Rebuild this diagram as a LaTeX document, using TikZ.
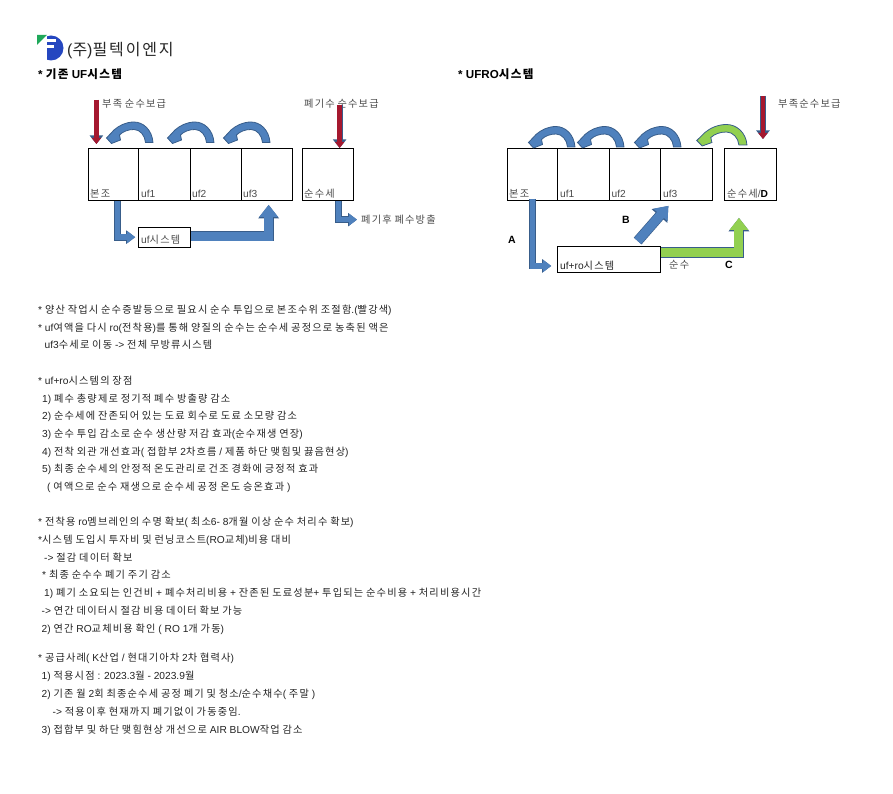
\documentclass[tikz,border=0pt]{standalone}
\usepackage{fontspec}
\usetikzlibrary{arrows.meta}
\setmainfont{Liberation Sans}
\newfontfamily\krfont[LetterSpace=11.7]{Noto Sans CJK KR}
% hangul goes to the korean font, the rest stays in Liberation Sans
\XeTeXinterchartokenstate=1
\newXeTeXintercharclass\krclass
\count255="AC00
\loop\XeTeXcharclass\count255=\krclass\ifnum\count255<"D7A3 \advance\count255 by 1 \repeat
\XeTeXinterchartoks 0 \krclass={\krfont}
\XeTeXinterchartoks 4095 \krclass={\krfont}
\XeTeXinterchartoks \krclass 0={\rmfamily}
\XeTeXinterchartoks \krclass 4095={\rmfamily}
\definecolor{flowblue}{HTML}{4F81BD}
\definecolor{flowedge}{HTML}{385D8A}
\definecolor{flowgreen}{HTML}{92D050}
\definecolor{flowred}{HTML}{A5182F}
\definecolor{logoblue}{HTML}{2547C0}
\definecolor{logogreen}{HTML}{1FA85A}
\definecolor{inktext}{HTML}{222222}
\definecolor{graytext}{HTML}{4A4A4A}
\tikzset{
  tank/.style={draw=black, line width=0.9pt, rectangle, inner sep=0pt, anchor=north west},
  tag/.style={anchor=base west, inner sep=0pt, font=\fontsize{10.2}{11}\selectfont, text=graytext},
  note/.style={anchor=base west, inner sep=0pt, font=\fontsize{10.2}{11}\selectfont, text=inktext},
  heading/.style={anchor=base west, inner sep=0pt, font=\fontsize{11.6}{13}\selectfont\bfseries, text=black},
  letter/.style={anchor=center, inner sep=0pt, font=\fontsize{10.5}{11}\selectfont\bfseries, text=black},
  thinflow/.style={draw=flowblue, line width=5.5pt, -{Triangle[length=8pt,width=11.5pt]},
    preaction={draw=flowedge, line width=6.8pt, -{Triangle[length=9pt,width=13pt]}}},
  wideflow/.style={draw=#1, line width=9pt, -{Triangle[length=12pt,width=18pt]},
    preaction={draw=flowedge, line width=10.3pt, -{Triangle[length=13.5pt,width=20pt]}}},
  wideflow/.default=flowblue,
  redflow/.style={draw=flowred, line width=4.5pt, -{Triangle[length=6pt,width=9pt]},
    preaction={draw=flowedge, line width=5.8pt, -{Triangle[length=8.5pt,width=13pt]}}},
  backflow/.pic={
    \filldraw[pic actions, line width=0.8pt] (0,0) .. controls (-1,-13) and (-10,-20.5) .. (-19,-20.5)
      .. controls (-27,-20.5) and (-34,-17) .. (-39,-12.5) -- (-46.5,-4.5) -- (-41.5,1) -- (-32.5,-2.5) -- (-33.5,-7.5)
      .. controls (-30,-11) and (-25,-13) .. (-19,-13)
      .. controls (-13,-13) and (-8,-7) .. (-7.5,0) -- cycle;
  }
}
\begin{document}
\begin{tikzpicture}[x=1pt, y=-1pt]
\useasboundingbox (0,0) rectangle (893,794);
% logo
\fill[logoblue] (51,48) circle (12.5);
\fill[white] (37,35) rectangle (47,60);
\fill[white] (47,39) rectangle (56,42);
\fill[white] (47,45.5) rectangle (54,48.5);
\fill[logogreen] (37,35) -- (47,35) -- (37,45) -- cycle;
\node[anchor=base west, inner sep=0pt, font=\fontsize{16}{20}\selectfont, text=black!85] (company) at (67,56) {(주)필텍이엔지};
\node[heading] (headleft) at (38,79) {* 기존 UF시스템};
\node[heading] (headright) at (458,79) {* UFRO시스템};
% left system
\node[tank, minimum width=50.5pt, minimum height=52pt] (lmain) at (87.7,148) {};
\node[tank, minimum width=52pt, minimum height=52pt] (luf1) at (138.2,148) {};
\node[tank, minimum width=51pt, minimum height=52pt] (luf2) at (190.2,148) {};
\node[tank, minimum width=51pt, minimum height=52pt] (luf3) at (241.2,148) {};
\node[tank, minimum width=51pt, minimum height=52pt] (lrinse) at (301.7,148) {};
\node[tank, minimum width=52pt, minimum height=20pt] (lsys) at (138.2,226.7) {};
\node[tag] at (90,197.5) {본조};
\node[tag] at (141,197.5) {uf1};
\node[tag] at (192,197.5) {uf2};
\node[tag] at (243,197.5) {uf3};
\node[tag] at (304,197.5) {순수세};
\node[tag] at (141,243.5) {uf시스템};
\node[tag] (lfeedtag) at (102,108) {부족 순수보급};
\node[tag] (lwastetag) at (304,108) {폐기수 순수보급};
\node[tag] (ldrain) at (361,223.5) {폐기후 폐수방출};
\coordinate (lfeed) at ([xshift=-17pt,yshift=48pt]lmain.north);
\coordinate (lwaste) at ([xshift=12pt,yshift=43pt]lrinse.north);
\draw[redflow, shorten >=4pt] (lfeed) -- ([xshift=-17pt]lmain.north);
\draw[redflow] (lwaste) -- ([xshift=12pt]lrinse.north);
\pic[fill=flowblue, draw=flowedge] at (153,142.5) {backflow};
\pic[fill=flowblue, draw=flowedge] at (214,142.5) {backflow};
\pic[fill=flowblue, draw=flowedge] at (270,142.5) {backflow};
\draw[thinflow, shorten >=3pt] ([xshift=4pt]lmain.south) |- (lsys.west);
\draw[wideflow, shorten >=4pt] ([yshift=1pt]lsys.east) -| ([xshift=1.5pt]luf3.south);
\draw[thinflow, shorten >=4pt] ([xshift=11pt]lrinse.south) |- (ldrain.west);
% right system
\node[tank, minimum width=50.5pt, minimum height=52pt] (rmain) at (506.7,148) {};
\node[tank, minimum width=52pt, minimum height=52pt] (ruf1) at (557.2,148) {};
\node[tank, minimum width=51pt, minimum height=52pt] (ruf2) at (609.2,148) {};
\node[tank, minimum width=51.5pt, minimum height=52pt] (ruf3) at (660.2,148) {};
\node[tank, minimum width=52pt, minimum height=52pt] (rrinse) at (723.5,148) {};
\node[tank, minimum width=103pt, minimum height=26pt] (rsys) at (557.2,246) {};
\node[tag] at (509,197.5) {본조};
\node[tag] at (560,197.5) {uf1};
\node[tag] at (611.5,197.5) {uf2};
\node[tag] at (663,197.5) {uf3};
\node[tag] at (727,197.5) {순수세/\textbf{\textcolor{black}{D}}};
\node[tag, text=inktext] at (560,269.5) {uf+ro시스템};
\node[tag] (rpure) at (669,268.5) {순수};
\node[tag] (rfeedtag) at (778,108) {부족순수보급};
\node[letter] (flowa) at (512,240) {A};
\node[letter] (flowb) at (626,220) {B};
\node[letter] (flowc) at (729,265) {C};
\coordinate (rfeed) at ([xshift=13pt,yshift=52pt]rrinse.north);
\draw[redflow, shorten >=9pt] (rfeed) -- ([xshift=13pt]rrinse.north);
\pic[fill=flowblue, draw=flowedge] at (575,147) {backflow};
\pic[fill=flowblue, draw=flowedge] at (624,147) {backflow};
\pic[fill=flowblue, draw=flowedge] at (681,147) {backflow};
\pic[fill=flowgreen, draw=flowedge, xscale=1.08] at (747,145) {backflow};
\draw[thinflow, shorten >=6pt] ([yshift=2pt]rmain.south) |- ([yshift=-6.5pt]rsys.west);
\draw[wideflow] ([xshift=28.5pt,yshift=5pt]rsys.north) -- ([xshift=-18pt,yshift=-5pt]ruf3.south);
\draw[wideflow=flowgreen, shorten >=17pt] ([yshift=7pt]rsys.east) -| ([xshift=-11pt]rrinse.south);
% notes
\node[note] (note1) at (38,313) {* 양산 작업시 순수증발등으로 필요시 순수 투입으로 본조수위 조절함.(빨강색)};
\node[note] (note2) at (38,331) {* uf여액을 다시 ro(전착용)를 통해 양질의 순수는 순수세 공정으로 농축된 액은};
\node[note] (note3) at (44.5,348) {uf3수세로 이동 -> 전체 무방류시스템};
\node[note] (note4) at (38,384) {* uf+ro시스템의 장점};
\node[note] (note5) at (42,402) {1) 폐수 총량제로 정기적 폐수 방출량 감소};
\node[note] (note6) at (42,419) {2) 순수세에 잔존되어 있는 도료 회수로 도료 소모량 감소};
\node[note] (note7) at (42,437) {3) 순수 투입 감소로 순수 생산량 저감 효과(순수재생 연장)};
\node[note] (note8) at (42,455) {4) 전착 외관 개선효과( 접합부 2차흐름 / 제품 하단 맺힘및 끓음현상)};
\node[note] (note9) at (42,472) {5) 최종 순수세의 안정적 온도관리로 건조 경화에 긍정적 효과};
\node[note] (note10) at (47,490) {( 여액으로 순수 재생으로 순수세 공정 온도 승온효과 )};
\node[note] (note11) at (38,525) {* 전착용 ro멤브레인의 수명 확보( 최소6- 8개월 이상 순수 처리수 확보)};
\node[note] (note12) at (38,543) {*시스템 도입시 투자비 및 런닝코스트(RO교체)비용 대비};
\node[note] (note13) at (44,561) {-> 절감 데이터 확보};
\node[note] (note14) at (42,578) {* 최종 순수수 폐기 주기 감소};
\node[note] (note15) at (44,596) {1) 폐기 소요되는 인건비 + 폐수처리비용 + 잔존된 도료성분+ 투입되는 순수비용 + 처리비용시간};
\node[note] (note16) at (41.5,614) {-> 연간 데이터시 절감 비용 데이터 확보 가능};
\node[note] (note17) at (41.5,632) {2) 연간 RO교체비용 확인 ( RO 1개 가동)};
\node[note] (note18) at (38,661) {* 공급사례( K산업 / 현대기아차 2차 협력사)};
\node[note] (note19) at (41.5,679) {1) 적용시점 : 2023.3월 - 2023.9월};
\node[note] (note20) at (41.5,697) {2) 기존 월 2회 최종순수세 공정 폐기 및 청소/순수채수( 주말 )};
\node[note] (note21) at (52.5,715) {-> 적용이후 현재까지 폐기없이 가동중임.};
\node[note] (note22) at (41.5,733) {3) 접합부 및 하단 맺힘현상 개선으로 AIR BLOW작업 감소};
\end{tikzpicture}
\end{document}
